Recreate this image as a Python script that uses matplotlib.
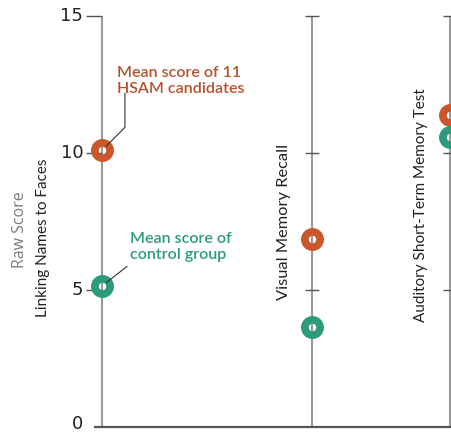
import matplotlib.pyplot as plt

# data
tests = ["Linking Names to Faces", "Visual Memory Recall", "Auditory Short-Term Memory Test"]
hsam = [10.1, 6.85, 11.4]
control = [5.15, 3.65, 10.6]
yticks = [0, 5, 10, 15]

# layout (x position of each test axis)
xpos = [0, 1, 1.657]

orange = "#c9572b"
green = "#2b9b7b"
axis_gray = "#9a9a9a"
W, H = 452, 433

fig = plt.figure(figsize=(W / 100, H / 100), dpi=100)
ax = fig.add_axes([0, 0, 1, 1])
ax.set_xlim(-0.486, 1.667)
ax.set_ylim(-0.219, 15.584)
ax.axis("off")

tickfont = dict(family=["Liberation Sans Narrow", "DejaVu Sans"], fontsize=13, color="#222222")
labfont = dict(family=["Lato", "DejaVu Sans"], fontsize=11)

# vertical axes and ticks
for i, x in enumerate(xpos):
    ax.vlines(x, 0, yticks[-1], color=axis_gray, lw=1.5, zorder=1)
    for t in yticks[1:]:
        if i == 0:
            ax.hlines(t, x - 0.075, x, color="#555555", lw=1.0, zorder=1)
        else:
            ax.hlines(t, x - 0.035, x + 0.035, color="#555555", lw=1.0, zorder=1)

# baseline
ax.hlines(0, -0.04, 1.667, color="#555555", lw=1.6, zorder=1)

# tick labels on the first axis
for t in yticks:
    ax.text(-0.09, t + (0.12 if t == 0 else 0), str(t), ha="right", va="center", **tickfont)

# markers (rings)
ax.plot(xpos, hsam, "o", ms=11, mew=5.5, mec=orange, mfc="none", ls="none", zorder=3)
ax.plot(xpos, control, "o", ms=11, mew=5.5, mec=green, mfc="none", ls="none", zorder=3)

# axis titles
fig.text(20 / W, 1 - 230 / H, "Raw Score", rotation=90, ha="center", va="center",
         color="#7a7a7a", family=["Open Sans", "DejaVu Sans"], fontsize=11.5)
fig.text(43 / W, 1 - 238 / H, tests[0], rotation=90, ha="center", va="center",
         color="#222222", **labfont)
fig.text(284 / W, 1 - 222 / H, tests[1], rotation=90, ha="center", va="center",
         color="#222222", family=["Lato", "DejaVu Sans"], fontsize=11.8)
fig.text(421 / W, 1 - 205 / H, tests[2], rotation=90, ha="center", va="center",
         color="#222222", **labfont)

# callouts
notefont = dict(family=["Lato", "DejaVu Sans"], fontsize=11.5, weight="semibold",
                linespacing=1.2)
ax.annotate("Mean score of 11\nHSAM candidates", xy=(xpos[0], hsam[0]),
            xytext=(11, 39), textcoords="offset points", ha="left", va="bottom",
            color="#b8512b", **notefont)
ax.annotate("", xy=(xpos[0], hsam[0]), xytext=(16.5, 41), textcoords="offset points",
            arrowprops=dict(arrowstyle="-", color="#333333", lw=0.8, shrinkA=0, shrinkB=4,
                            connectionstyle="angle,angleA=90,angleB=45,rad=0"))
ax.annotate("Mean score of\ncontrol group", xy=(xpos[0], control[0]),
            xytext=(20, 17), textcoords="offset points", ha="left", va="bottom",
            color="#2b9b7b", **notefont)
ax.annotate("", xy=(xpos[0], control[0]), xytext=(18, 14), textcoords="offset points",
            arrowprops=dict(arrowstyle="-", color="#333333", lw=0.8, shrinkA=0, shrinkB=4))

fig.savefig("out.png", dpi=100)
